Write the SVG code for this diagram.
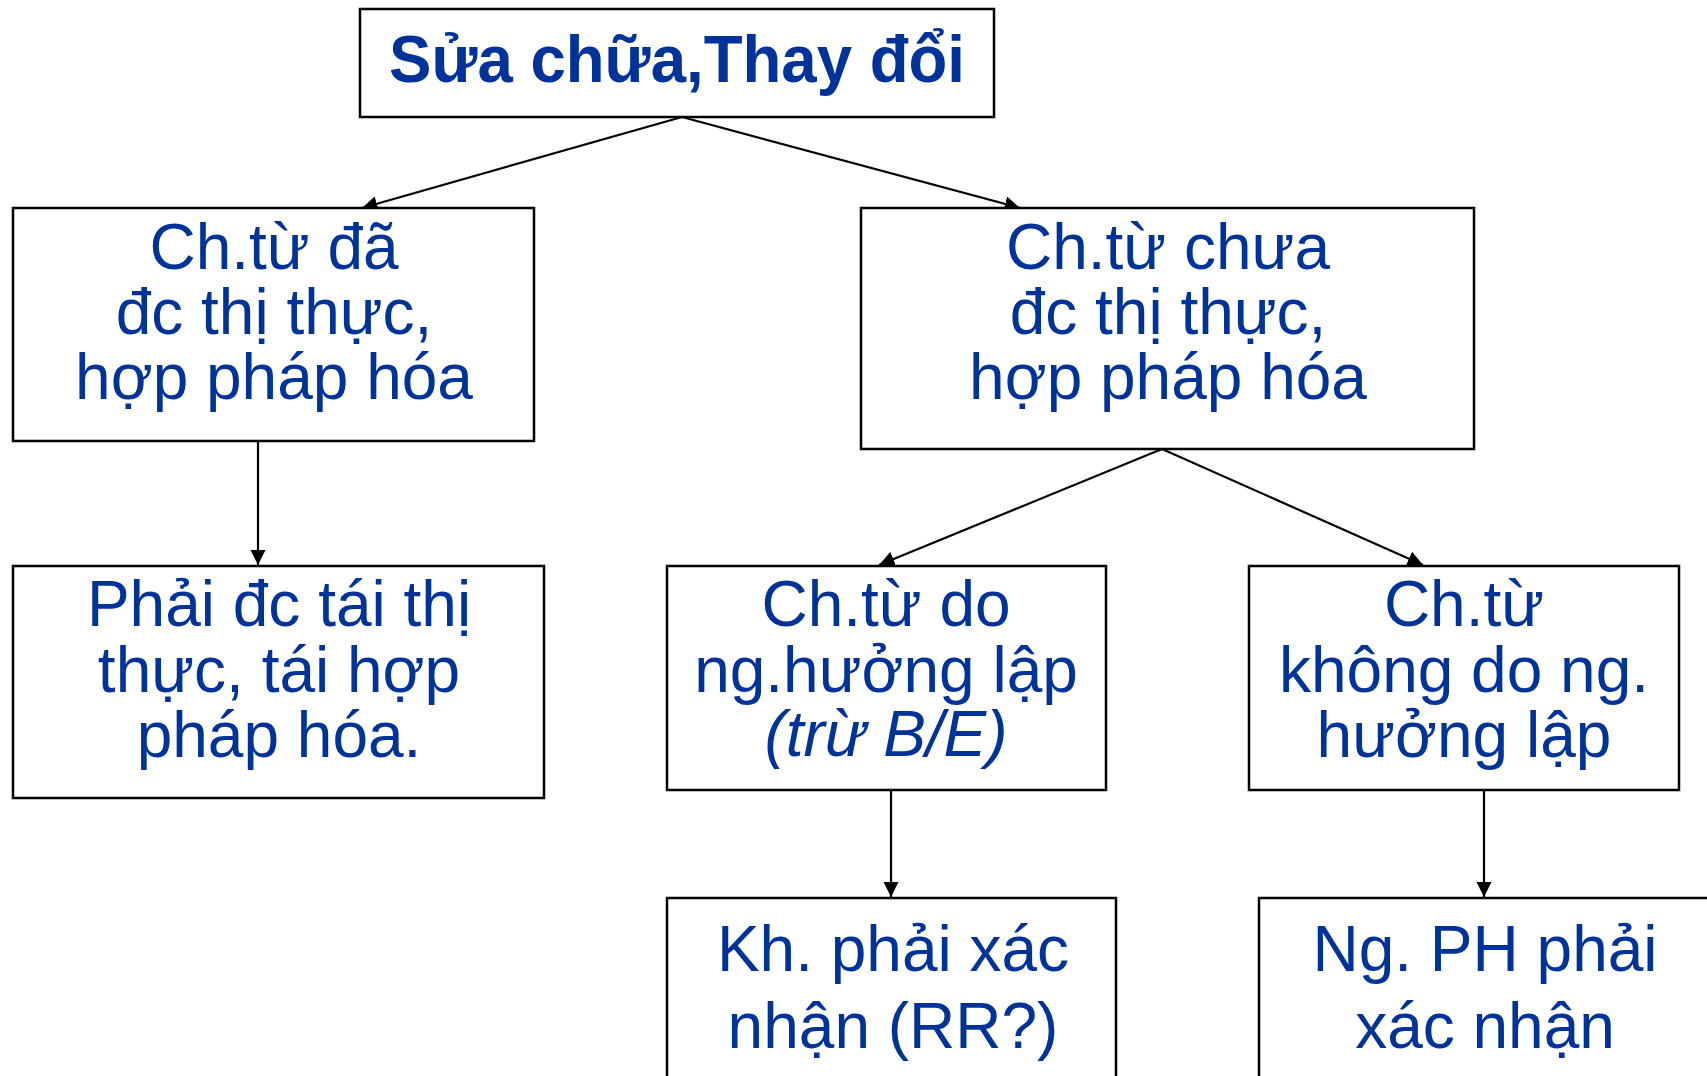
<svg xmlns="http://www.w3.org/2000/svg" width="1707" height="1076" viewBox="0 0 1707 1076">
  <style>
    .box { fill: #ffffff; stroke: #000000; stroke-width: 2.5; }
    .lbl { font-family: "Liberation Sans", Arial, sans-serif; font-size: 64px; fill: #003399; text-anchor: middle; }
    .title { font-family: "Liberation Sans", Arial, sans-serif; font-size: 66px; font-weight: bold; fill: #003399; text-anchor: middle; }
    .it { font-style: italic; }
    .edge { stroke: #000000; stroke-width: 2.2; fill: none; marker-end: url(#arrow); }
  </style>
  <defs>
    <marker id="arrow" viewBox="0 0 10 10" refX="10" refY="5" markerWidth="7" markerHeight="7" orient="auto" markerUnits="strokeWidth">
      <path d="M0,0 L10,5 L0,10 z" fill="#000000"/>
    </marker>
  </defs>
  <rect width="1707" height="1076" fill="#ffffff"/>

  <g id="connectors">
    <line class="edge" x1="682" y1="117" x2="362" y2="208"/>
    <line class="edge" x1="682" y1="117" x2="1020" y2="208"/>
    <line class="edge" x1="258" y1="441" x2="258" y2="565"/>
    <line class="edge" x1="1162" y1="449" x2="879" y2="565"/>
    <line class="edge" x1="1162" y1="449" x2="1423" y2="565"/>
    <line class="edge" x1="891" y1="790" x2="891" y2="897"/>
    <line class="edge" x1="1484" y1="790" x2="1484" y2="897"/>
  </g>

  <g id="root">
    <rect class="box" x="360" y="9" width="634" height="108"/>
    <text class="title" x="677" y="82" textLength="576" lengthAdjust="spacingAndGlyphs">Sửa chữa,Thay đổi</text>
  </g>

  <g id="legalized">
    <rect class="box" x="13" y="208" width="521" height="233"/>
    <text class="lbl" x="274" y="269">Ch.từ đã</text>
    <text class="lbl" x="274" y="334">đc thị thực,</text>
    <text class="lbl" x="274" y="399">hợp pháp hóa</text>
  </g>

  <g id="not-legalized">
    <rect class="box" x="861" y="208" width="613" height="241"/>
    <text class="lbl" x="1168" y="269">Ch.từ chưa</text>
    <text class="lbl" x="1168" y="334">đc thị thực,</text>
    <text class="lbl" x="1168" y="399">hợp pháp hóa</text>
  </g>

  <g id="re-legalize">
    <rect class="box" x="13" y="566" width="531" height="232"/>
    <text class="lbl" x="279" y="626">Phải đc tái thị</text>
    <text class="lbl" x="279" y="692">thực, tái hợp</text>
    <text class="lbl" x="279" y="757">pháp hóa.</text>
  </g>

  <g id="by-beneficiary">
    <rect class="box" x="667" y="566" width="439" height="224"/>
    <text class="lbl" x="886" y="626">Ch.từ do</text>
    <text class="lbl" x="886" y="692">ng.hưởng lập</text>
    <text class="lbl it" x="886" y="756">(trừ B/E)</text>
  </g>

  <g id="not-by-beneficiary">
    <rect class="box" x="1249" y="566" width="430" height="224"/>
    <text class="lbl" x="1464" y="626">Ch.từ</text>
    <text class="lbl" x="1464" y="692">không do ng.</text>
    <text class="lbl" x="1464" y="757">hưởng lập</text>
  </g>

  <g id="applicant-confirms">
    <rect class="box" x="667" y="898" width="449" height="200"/>
    <text class="lbl" x="893" y="971">Kh. phải xác</text>
    <text class="lbl" x="893" y="1048">nhận (RR?)</text>
  </g>

  <g id="issuer-confirms">
    <rect class="box" x="1259" y="898" width="452" height="200"/>
    <text class="lbl" x="1485" y="971">Ng. PH phải</text>
    <text class="lbl" x="1485" y="1048">xác nhận</text>
  </g>
</svg>
